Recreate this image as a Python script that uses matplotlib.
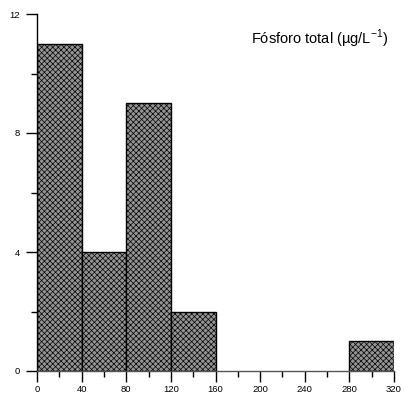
import numpy as np
import matplotlib
matplotlib.use('Agg')
import matplotlib.pyplot as plt
from matplotlib.ticker import MultipleLocator

plt.rcParams['font.family'] = ['Liberation Sans', 'DejaVu Sans']
plt.rcParams['hatch.color'] = '#4a4a4a'
plt.rcParams['hatch.linewidth'] = 0.5
plt.rcParams['mathtext.fontset'] = 'custom'
plt.rcParams['mathtext.rm'] = 'Liberation Sans'

# histogram bins (µg/L) and counts
bin_left = [0, 40, 80, 120, 280]
bin_width = [40, 40, 40, 40, 40]
counts = [11, 4, 9, 2, 1]
xticks = [0, 40, 80, 120, 160, 200, 240, 280, 320]
yticks = [0, 4, 8, 12]

fig = plt.figure(figsize=(4.04, 3.98), dpi=100)
ax = fig.add_axes([37/404, 27/398, 357/404, 357/398])

ax.bar(bin_left, counts, bin_width, align='edge', facecolor='#949494',
       edgecolor='black', linewidth=1.0, hatch='xxxxxx')

ax.set_xlim(0, 320)
ax.set_ylim(0, 12)
ax.set_xticks(xticks)
ax.set_yticks(yticks)
ax.xaxis.set_minor_locator(MultipleLocator(20))
ax.yaxis.set_minor_locator(MultipleLocator(2))
ax.tick_params(which='major', length=8, width=1, labelsize=6.8)
ax.tick_params(axis='x', which='major', pad=2)
ax.tick_params(axis='y', which='major', pad=4)
ax.tick_params(which='minor', length=4, width=1)
for s in ['top', 'right']:
    ax.spines[s].set_visible(False)
ax.spines['left'].set_linewidth(1)
ax.spines['bottom'].set_linewidth(1)
ax.spines['bottom'].set_color('#555555')

ax.text(0.985, 0.93, 'Fósforo total (µg/L$^{\\mathregular{-1}}$)', transform=ax.transAxes,
        ha='right', va='center', fontsize=10.5)

fig.savefig('out.png', dpi=100)
